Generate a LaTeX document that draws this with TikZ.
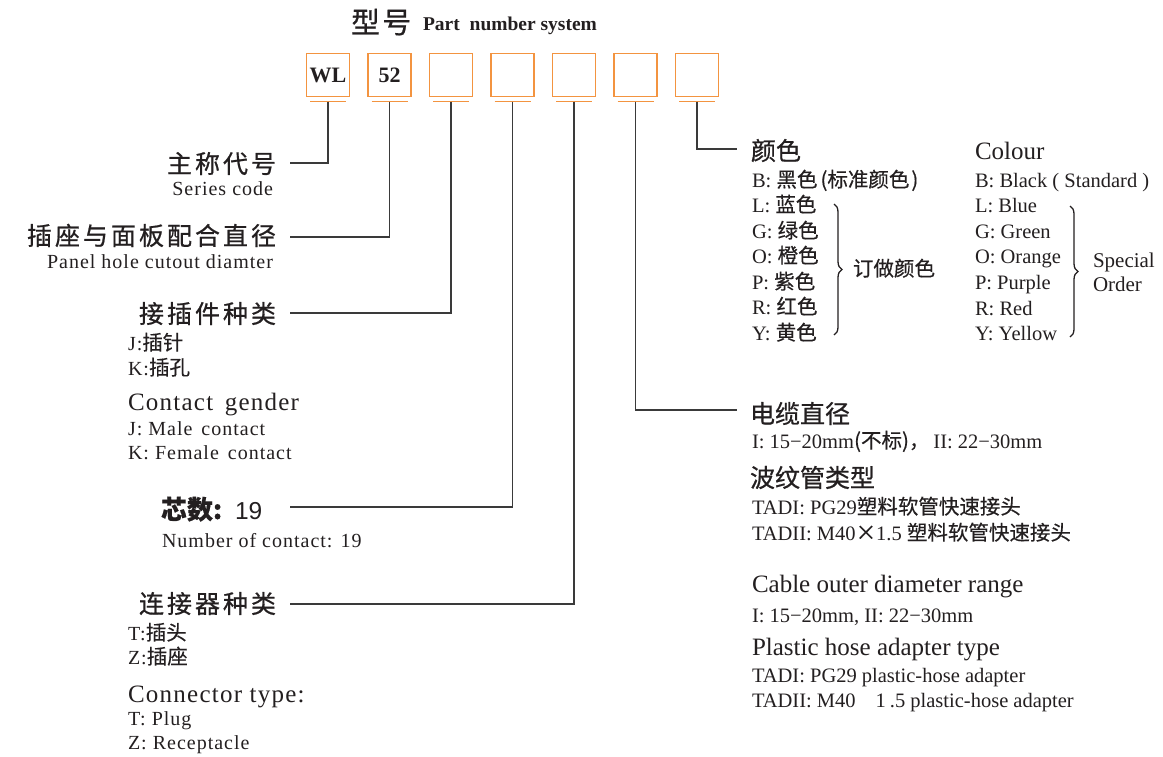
\documentclass[tikz,border=0pt]{standalone}
\usepackage{fontspec}
\setmainfont{Liberation Serif}
\newfontfamily\cjk[FakeBold=0.4]{Noto Sans CJK SC}
\newfontfamily\cjkhead[LetterSpace=12,FakeBold=0.7]{Noto Sans CJK SC}
\newfontfamily\cjkheadr[FakeBold=0.7]{Noto Sans CJK SC}
\newfontfamily\cjktitle[LetterSpace=8,FakeBold=0.7]{Noto Sans CJK SC}
\newfontfamily\trk[LetterSpace=5]{Liberation Serif}
\newfontfamily\sansf{Liberation Sans}
\usetikzlibrary{decorations.pathreplacing,calc}
\definecolor{ink}{HTML}{231F20}
\definecolor{boxorange}{HTML}{F39440}
\definecolor{linegray}{HTML}{3A3A3A}
\newcommand\myfs[1]{\fontsize{#1}{#1}\selectfont}
\newcommand\zhs[1]{{\cjk\myfs{20.5}#1}}
\begin{document}
\begin{tikzpicture}[x=1pt,y=-1pt,
  every node/.style={inner sep=0pt,outer sep=0pt,text=ink},
  codebox/.style={draw=boxorange,line width=1.4pt,minimum width=43pt,minimum height=43pt,font=\bfseries\myfs{22}},
  orbar/.style={draw=boxorange,line width=1.4pt},
  leader/.style={draw=linegray,line width=1.2pt},
  headcn/.style={font=\cjkhead\myfs{25}},
  headcnr/.style={font=\cjkheadr\myfs{25}},
  headenl/.style={font=\trk\myfs{25}},
  smalll/.style={font=\trk\myfs{20}},
  headen/.style={font=\myfs{25}},
  smallr/.style={font=\myfs{20.5}},
  bracedeco/.style={draw=ink,line width=1.3pt,decorate,decoration={brace,amplitude=8pt,aspect=0.5}}
]
\useasboundingbox (0,0) rectangle (1163,756);

% title
\node[anchor=base west] (title1) at (351,33) {\cjktitle\myfs{29}型号};
\node[anchor=base west,font=\bfseries\myfs{19.5}] (title2) at (423,30) {Part\hspace{5pt} number system};

% code boxes
\node[codebox] (b1) at (328,75) {WL};
\node[codebox] (b2) at (389.5,75) {52};
\node[codebox] (b3) at (451,75) {};
\node[codebox] (b4) at (512.5,75) {};
\node[codebox] (b5) at (574,75) {};
\node[codebox] (b6) at (635.5,75) {};
\node[codebox] (b7) at (697,75) {};
\foreach \i in {1,...,7}{
  \draw[orbar] ($(b\i.south)+(-18,5)$) -- ($(b\i.south)+(18,5)$);
  \coordinate (t\i) at ($(b\i.south)+(0,5)$);
}

% leader end points
\coordinate (e1) at (290,163);
\coordinate (e2) at (290,237);
\coordinate (e3) at (290,313);
\coordinate (e4) at (290,507);
\coordinate (e5) at (290,604);
\coordinate (e6) at (737,410);
\coordinate (e7) at (737,149);
\foreach \i in {1,...,7}{ \draw[leader] (t\i) |- (e\i); }

% left column
\node[headcn,anchor=base east] (h1) at (276,173) {主称代号};
\node[smalll,anchor=base east] (h1e) at (273,195) {Series code};
\node[headcn,anchor=base east] (h2) at (276,245) {插座与面板配合直径};
\node[smalll,anchor=base east] (h2e) at (273,268) {Panel hole cutout diamter};

\node[headcn,anchor=base east] (h3) at (276,323) {接插件种类};
\node[smalll,anchor=base west] (h3a) at (128,350) {J:\zhs{插针}};
\node[smalll,anchor=base west] (h3b) at (128,375) {K:\zhs{插孔}};
\node[headenl,anchor=base west] (h3e) at (128,410) {Contact\hspace{4pt} gender};
\node[smalll,anchor=base west] (h3c) at (128,435) {J: Male\hspace{3pt} contact};
\node[smalll,anchor=base west] (h3d) at (128,459) {K: Female\hspace{3pt} contact};

\node[anchor=base west] (h4) at (161,519) {{\cjk\bfseries\myfs{26}芯数:}\hspace{13pt}{\sansf\myfs{24.5}19}};
\node[smalll,anchor=base west] (h4e) at (162,547) {Number of contact: 19};

\node[headcn,anchor=base east] (h5) at (276,613) {连接器种类};
\node[smalll,anchor=base west] (h5a) at (128,640) {T:\zhs{插头}};
\node[smalll,anchor=base west] (h5b) at (128,664) {Z:\zhs{插座}};
\node[headenl,anchor=base west] (h5e) at (128,702) {Connector type:};
\node[smalll,anchor=base west] (h5c) at (128,725) {T: Plug};
\node[smalll,anchor=base west] (h5d) at (128,749) {Z: Receptacle};

% right column: colour
\node[headcnr,anchor=base west] (h7) at (751,160) {颜色};
\node[smallr,anchor=base west] (c0) at (752,187) {B: \zhs{黑色\hspace{3pt}(标准颜色\hspace{2pt})}};
\node[smallr,anchor=base west] (c1) at (752,212) {L: \zhs{蓝色}};
\node[smallr,anchor=base west] (c2) at (752,238) {G: \zhs{绿色}};
\node[smallr,anchor=base west] (c3) at (752,263) {O: \zhs{橙色}};
\node[smallr,anchor=base west] (c4) at (752,289) {P: \zhs{紫色}};
\node[smallr,anchor=base west] (c5) at (752,314) {R: \zhs{红色}};
\node[smallr,anchor=base west] (c6) at (752,340) {Y: \zhs{黄色}};
\draw[bracedeco] (834,204) -- (834,335);
\node[anchor=base west,font=\cjk\myfs{20.5}] (sp) at (853,276) {订做颜色};

\node[headen,anchor=base west] (h7e) at (975,159) {Colour};
\node[smallr,anchor=base west] (d0) at (975,187) {B: Black ( Standard )};
\node[smallr,anchor=base west] (d1) at (975,212) {L: Blue};
\node[smallr,anchor=base west] (d2) at (975,238) {G: Green};
\node[smallr,anchor=base west] (d3) at (975,263) {O: Orange};
\node[smallr,anchor=base west] (d4) at (975,289) {P: Purple};
\node[smallr,anchor=base west] (d5) at (975,315) {R: Red};
\node[smallr,anchor=base west] (d6) at (975,340) {Y: Yellow};
\draw[bracedeco] (1070,206) -- (1070,337);
\node[anchor=base west,font=\myfs{21}] (spe1) at (1093,267) {Special};
\node[anchor=base west,font=\myfs{21}] (spe2) at (1093,291) {Order};

% right column: cable
\node[headcnr,anchor=base west] (h6) at (750,423) {电缆直径};
\node[smallr,anchor=base west] (g1) at (752,448) {I: 15−20mm\zhs{(不标)，}\hspace{4pt}II: 22−30mm};
\node[headcnr,anchor=base west] (h6b) at (750,487) {波纹管类型};
\node[smallr,anchor=base west] (g2) at (752,514) {TADI: PG29\zhs{塑料软管快速接头}};
\node[smallr,anchor=base west] (g3) at (752,540) {TADII: M40\zhs{×}1.5 \zhs{塑料软管快速接头}};
\node[headen,anchor=base west] (h6e) at (752,592) {Cable outer diameter range};
\node[smallr,anchor=base west] (g4) at (752,622) {I: 15−20mm, II: 22−30mm};
\node[headen,anchor=base west] (h6f) at (752,655) {Plastic hose adapter type};
\node[smallr,anchor=base west] (g5) at (752,682) {TADI: PG29 plastic-hose adapter};
\node[smallr,anchor=base west] (g6) at (752,707) {TADII: M40\hspace{20pt}1\hspace{4pt}.5 plastic-hose adapter};
\end{tikzpicture}
\end{document}
